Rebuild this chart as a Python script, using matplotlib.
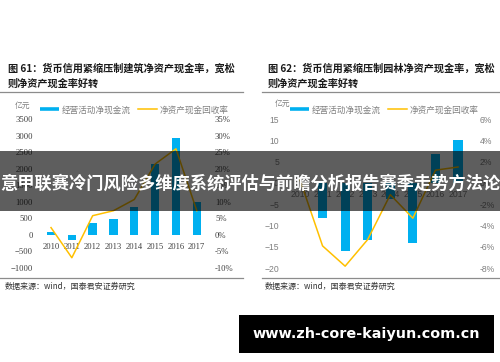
import matplotlib
matplotlib.use("Agg")
import matplotlib.pyplot as plt
from matplotlib.lines import Line2D
from matplotlib.patches import Rectangle

W, H = 500, 362
CJK = ['Noto Sans CJK SC', 'DejaVu Sans']

years = ['2010', '2011', '2012', '2013', '2014', '2015', '2016', '2017']

# 图61 建筑
build_cash = [90, -150, 350, 480, 840, 2130, 2920, 990]
build_rate = [2.2, -6.9, 5.8, 7.3, 10.7, 21.4, 26.0, 7.3]

# 图62 园林
garden_cash = [0.0, -8.3, -15.9, -13.4, -3.8, -14.1, 6.8, 10.1]
garden_rate = [0.3, -5.9, -7.8, -5.3, -1.1, -3.3, 1.2, 1.5]

left_ticks = [-1000, -500, 0, 500, 1000, 1500, 2000, 2500, 3000, 3500]
left_pct = [-10, -5, 0, 5, 10, 15, 20, 25, 30, 35]
right_ticks = [-20, -15, -10, -5, 0, 5, 10, 15]
right_pct = [-8, -6, -4, -2, 0, 2, 4, 6]

titles = [("图 61：货币信用紧缩压制建筑净资产现金率，宽松", "则净资产现金率好转"),
          ("图 62：货币信用紧缩压制园林净资产现金率，宽松", "则净资产现金率好转")]
legend_labels = ["经营活动净现金流", "净资产现金回收率"]
source = "数据来源：wind，国泰君安证券研究"
banner = "意甲联赛冷门风险多维度系统评估与前瞻分析报告赛季走势方法论"
site = "www.zh-core-kaiyun.com.cn"

BLUE = '#00B0F0'
GOLD = '#FFC000'

fig = plt.figure(figsize=(W / 100, H / 100), dpi=100)
fig.patch.set_facecolor('white')


def px_axes(left, top, right, bottom):
    return fig.add_axes([left / W, 1 - bottom / H, (right - left) / W, (bottom - top) / H])


def fx(x):
    return x / W


def fy(y):
    return 1 - y / H


def panel(box, cash, rate, ylim, yticks, plim, pticks, tickfont, pads, xpad, tcolor):
    ax = px_axes(*box)
    x = range(len(years))
    ax.bar(x, cash, width=0.4, color=BLUE, zorder=2)
    ax.set_xlim(-0.5, len(years) - 0.5)
    ax.set_ylim(*ylim)
    ax.set_yticks(yticks)
    ax.set_xticks(list(x))
    ax.set_xticklabels(years)
    for s in ['top', 'right', 'left']:
        ax.spines[s].set_visible(False)
    ax.spines['bottom'].set_position(('data', 0))
    ax.spines['bottom'].set_visible(False)
    ax.tick_params(axis='y', length=0, pad=pads[0], labelsize=6.2, labelcolor=tcolor)
    ax.tick_params(axis='x', length=0, pad=xpad, labelsize=6.2, labelcolor=tcolor)
    for lab in ax.get_xticklabels() + ax.get_yticklabels():
        lab.set_fontfamily(tickfont)
    ax.patch.set_visible(False)

    ax2 = ax.twinx()
    ax2.plot(x, rate, color=GOLD, lw=1.1, zorder=3)
    ax2.set_ylim(*plim)
    ax2.set_yticks(pticks)
    ax2.set_yticklabels([f"{p}%" for p in pticks])
    for s in ax2.spines.values():
        s.set_visible(False)
    ax2.tick_params(axis='y', length=0, pad=pads[1], labelsize=6.2, labelcolor=tcolor)
    for lab in ax2.get_yticklabels():
        lab.set_fontfamily(tickfont)
    return ax


ax_l = panel((40.6, 119, 207.2, 268), build_cash, build_rate, (-1000, 3500), left_ticks,
             (-10, 35), left_pct, 'Liberation Serif', (5.5, 5.6), 6.0, '#404040')
ax_r = panel((288.7, 119, 469.3, 268.3), garden_cash, garden_rate, (-20, 15), right_ticks,
             (-8, 6), right_pct, 'Liberation Sans', (7.0, 7.5), 4.7, '#7f7f7f')

# titles, rules, sources, legends
for i, (x0, x1, tx, lx, yx) in enumerate([(0, 243, 8, 40, 15), (262, 500, 268, 290, 275)]):
    fig.text(fx(tx), fy(69), titles[i][0], family=CJK, fontsize=7.3, fontweight='bold',
             color='#1a1a1a', va='center', ha='left')
    fig.text(fx(tx), fy(84), titles[i][1], family=CJK, fontsize=7.3, fontweight='bold',
             color='#1a1a1a', va='center', ha='left')
    fig.add_artist(Line2D([fx(x0), fx(x1)], [fy(92), fy(92)], color='#8c8c8c', lw=0.9))
    fig.add_artist(Line2D([fx(x0), fx(x1)], [fy(277.5), fy(277.5)], color='#8c8c8c', lw=0.9))
    fig.text(fx(tx - 3), fy(286), source, family=CJK, fontsize=5.8, color='#333333',
             va='center', ha='left')
    fig.text(fx(yx), fy(104 if i else 106), "亿元", family=CJK, fontsize=5.6, color='#808080',
             va='center', ha='left')
    handles = [Line2D([], [], color=BLUE, lw=2.6, solid_capstyle='butt'),
               Line2D([], [], color=GOLD, lw=1.1)]
    fig.legend(handles, legend_labels, loc='center left', bbox_to_anchor=(fx(lx), fy(110)),
               ncol=2, frameon=False, prop={'family': CJK, 'size': 6.2}, labelcolor='#808080',
               handlelength=2.2, handletextpad=0.3, columnspacing=0.9, borderpad=0,
               borderaxespad=0)

# overlay banner
fig.add_artist(Rectangle((0, fy(211)), 1, (211 - 151) / H, transform=fig.transFigure,
                         facecolor='black', alpha=0.63, edgecolor='none', zorder=10))
fig.text(0.5, fy(183.5), banner, family=CJK, fontsize=12.4, fontweight='bold', color='white',
         ha='center', va='center', zorder=11)

# watermark box
fig.add_artist(Rectangle((fx(239), fy(353)), (494 - 239) / W, (353 - 315) / H,
                         transform=fig.transFigure, facecolor='black', edgecolor='none', zorder=10))
fig.text(fx(366.5), fy(334), site, family='DejaVu Sans', fontsize=10.4, fontweight='bold',
         color='white', ha='center', va='center', zorder=11)

fig.savefig('out.png', dpi=100)
